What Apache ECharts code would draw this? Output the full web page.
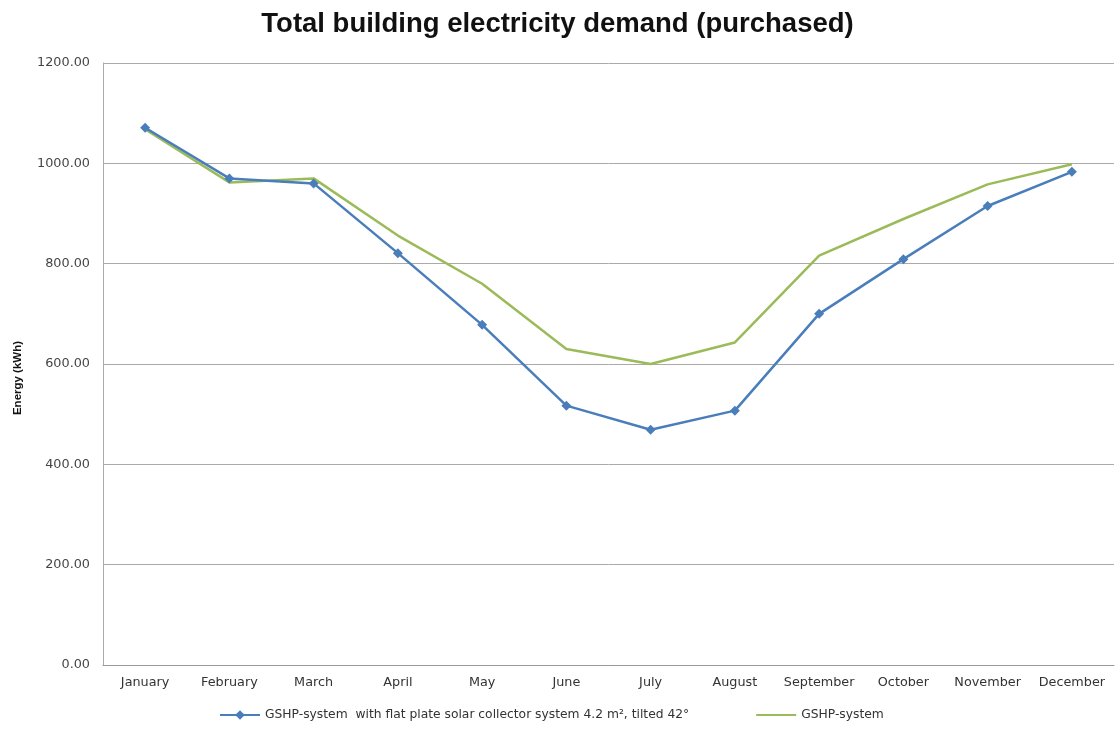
<!DOCTYPE html>
<html><head><meta charset="utf-8">
<script src="https://cdn.jsdelivr.net/npm/echarts@6/dist/echarts.min.js"></script>
<style>html,body{margin:0;padding:0;background:#fff}#c{width:1115px;height:730px}</style>
</head><body><div id="c"></div>
<script>
const months = ["January","February","March","April","May","June","July","August","September","October","November","December"];
const solarSystem = [1071, 970, 960, 821, 678, 517, 469, 507, 700, 809, 915, 983];
const gshpSystem = [1068, 962, 970, 856, 760, 630, 600, 643, 816, 889, 958, 998];
const seriesNames = ["GSHP-system  with flat plate solar collector system 4.2 m², tilted 42°", "GSHP-system"];
const yAxisTitle = "Energy (kWh)";
const chartTitle = "Total building electricity demand (purchased)";

const chart = echarts.init(document.getElementById('c'), null, {renderer:'canvas'});
const font = 'Liberation Sans, Arial, sans-serif';
const wide = 'DejaVu Sans, sans-serif';
chart.setOption({
  animation:false,
  backgroundColor:'#fff',
  title:{text:chartTitle,left:'center',top:5,
    textStyle:{fontFamily:font,fontSize:27.5,fontWeight:'bold',color:'#111'}},
  grid:{left:103,right:1,top:63,bottom:65},
  graphic:[{type:'text',x:18,y:378,rotation:Math.PI/2,
    style:{text:yAxisTitle,fontFamily:font,fontSize:11.5,fontWeight:'bold',fill:'#111',align:'center',verticalAlign:'middle'}}],
  legend:{bottom:4,left:214,itemGap:66,itemWidth:40,itemHeight:12,
    textStyle:{fontFamily:wide,fontSize:12.3,color:'#333'},
    data:[{name:seriesNames[0]},{name:seriesNames[1],itemStyle:{opacity:0}}]},
  xAxis:{type:'category',data:months,boundaryGap:true,
    axisLine:{lineStyle:{color:'#999'}},axisTick:{show:false},
    axisLabel:{fontFamily:wide,fontSize:12.8,color:'#333',margin:11,interval:0}},
  yAxis:{type:'value',min:0,max:1200,interval:200,
    axisLine:{show:true,lineStyle:{color:'#aaa'}},axisTick:{show:false},
    axisLabel:{fontFamily:wide,fontSize:12.8,color:'#444',margin:13,formatter:v=>v.toFixed(2)},
    splitLine:{lineStyle:{color:'#aaa',width:1}}},
  series:[
    {name:seriesNames[0],type:'line',data:solarSystem,symbol:'diamond',symbolSize:10,
      lineStyle:{color:'#4a7ebb',width:2.5},itemStyle:{color:'#4a7ebb'},z:3},
    {name:seriesNames[1],type:'line',data:gshpSystem,symbol:'none',showSymbol:false,
      lineStyle:{color:'#9bbb59',width:2.5},itemStyle:{color:'#9bbb59'},z:2}
  ]
});
</script></body></html>
